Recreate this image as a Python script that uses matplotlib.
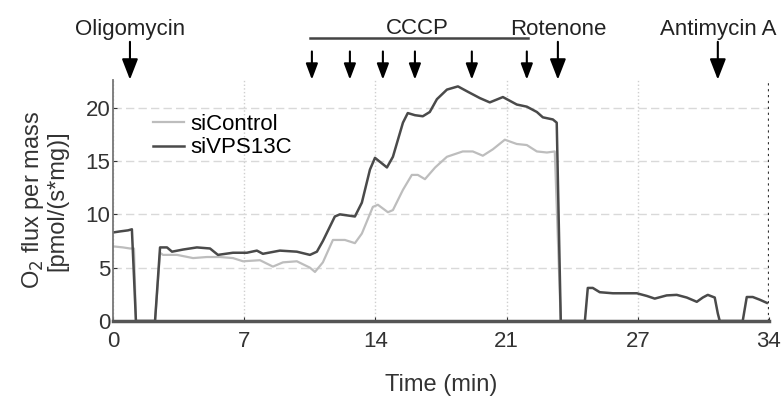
import matplotlib.pyplot as plt
import numpy as np

plt.rcParams['font.family'] = ['Liberation Sans', 'DejaVu Sans']

# ---- data (time in min, O2 flux) ----
t_vps = [0, 0.36, 0.78, 0.98, 1.19, 2.18, 2.44, 2.80, 3.06, 3.63, 4.35, 5.03, 5.44,
         6.22, 6.94, 7.46, 7.77, 8.65, 9.53, 10.21, 10.57, 10.88, 11.50, 11.76, 12.54,
         12.90, 13.32, 13.58, 14.20, 14.51, 15.03, 15.28, 15.65, 16.06, 16.42, 16.79,
         17.31, 17.88, 18.39, 19.02, 19.53, 20.21, 20.93, 21.45, 21.97, 22.28, 22.80,
         23.00, 23.21, 24.46, 24.61, 24.87, 25.23, 25.91, 26.63, 27.15, 27.67, 28.08,
         28.70, 29.22, 29.74, 30.26, 30.57, 30.83, 31.19, 31.35, 31.45, 32.64, 32.85,
         33.16, 33.52, 33.89]
f_vps = [8.3, 8.4, 8.5, 8.6, 0, 0, 6.9, 6.9, 6.5, 6.7, 6.9, 6.8, 6.2,
         6.4, 6.4, 6.6, 6.3, 6.6, 6.5, 6.2, 6.5, 7.5, 9.8, 10.0, 9.8,
         11.1, 14.2, 15.3, 14.4, 15.4, 18.6, 19.5, 19.3, 19.2, 19.6, 20.8,
         21.7, 22.0, 21.5, 20.9, 20.5, 21.0, 20.3, 20.1, 19.6, 19.1, 18.9,
         18.6, 0, 0, 3.1, 3.1, 2.7, 2.6, 2.6, 2.6, 2.35, 2.1,
         2.4, 2.45, 2.2, 1.8, 2.2, 2.45, 2.2, 0.7, 0, 0, 2.25,
         2.25, 2.0, 1.7]

t_ctrl = [0, 0.52, 0.88, 1.09, 1.19, 2.18, 2.44, 2.59, 3.32, 4.15, 4.87, 5.54, 6.22,
          6.74, 7.62, 8.29, 8.81, 9.53, 10.21, 10.47, 10.88, 11.40, 12.02, 12.54,
          12.90, 13.47, 13.73, 14.25, 14.51, 15.03, 15.49, 15.80, 16.17, 16.70,
          17.31, 18.13, 18.65, 19.17, 19.69, 20.31, 20.93, 21.45, 21.97, 22.49,
          22.90, 23.21]
f_ctrl = [7.0, 6.9, 6.8, 6.8, 0, 0, 6.4, 6.2, 6.2, 5.9, 6.0, 6.0, 5.9,
          5.6, 5.7, 5.1, 5.5, 5.6, 5.0, 4.6, 5.5, 7.6, 7.6, 7.3,
          8.2, 10.7, 10.9, 10.2, 10.4, 12.3, 13.7, 13.7, 13.3, 14.4,
          15.4, 15.9, 15.9, 15.5, 16.1, 17.0, 16.6, 16.5, 15.9, 15.8,
          15.9, 0]

# injections
big_arrows = [0.88, 23.06, 31.35]
big_labels = ['Oligomycin', 'Rotenone', 'Antimycin A']
cccp_arrows = [10.31, 12.28, 13.99, 15.65, 18.60, 21.45]

x_ticks = np.linspace(0, 34, 6)
x_ticklabels = ['0', '7', '14', '21', '27', '34']
y_ticks = [0, 5, 10, 15, 20]

fig = plt.figure(figsize=(7.84, 3.99), dpi=100)
ax = fig.add_axes([0.1441, 0.1955, 0.8367, 0.604])

ax.plot(t_ctrl, f_ctrl, color='#bdbdbd', lw=1.6, label='siControl')
ax.plot(t_vps, f_vps, color='#4a4a4a', lw=1.8, label='siVPS13C')

ax.set_xlim(0, 34)
ax.set_ylim(0, 22.6)
ax.set_xticks(x_ticks)
ax.set_xticklabels(x_ticklabels)
ax.set_yticks(y_ticks)
ax.tick_params(labelsize=16, length=3, direction='in', colors='#333333')
ax.tick_params(axis='x', pad=7)
ax.tick_params(axis='y', pad=2)

ax.grid(axis='y', linestyle=(0, (6, 3)), color='#d9d9d9', lw=1)
ax.grid(axis='x', linestyle=':', color='#cfcfcf', lw=1)
ax.axvline(34, linestyle=':', color='#333333', lw=1.6)

for s in ['top', 'right']:
    ax.spines[s].set_visible(False)
ax.spines['left'].set_color('#777777')
ax.spines['left'].set_linewidth(1.3)
ax.spines['bottom'].set_color('#555555')
ax.spines['bottom'].set_linewidth(2.5)

ax.set_xlabel('Time (min)', fontsize=17, color='#333333', labelpad=16)
ax.set_ylabel('O$_2$ flux per mass\n[pmol/(s*mg)]', fontsize=17, color='#333333',
              linespacing=1.05, labelpad=12)

ax.legend(loc='upper left', bbox_to_anchor=(0.047, 0.895), frameon=False, fontsize=16,
          handlelength=1.4, handletextpad=0.3, labelspacing=0.1, borderaxespad=0)

# annotations above the axes
trans = ax.get_xaxis_transform()
for xv, lab in zip(big_arrows, big_labels):
    ax.text(xv, 1.21, lab, transform=trans, ha='center', va='center', fontsize=16,
            color='#222222')
    ax.annotate('', xy=(xv, 0.99), xytext=(xv, 1.17), xycoords=trans, textcoords=trans,
                arrowprops=dict(arrowstyle='-|>,head_length=0.9,head_width=0.35',
                                color='black', lw=1.5, mutation_scale=14),
                annotation_clip=False)
for xv in cccp_arrows:
    ax.annotate('', xy=(xv, 0.99), xytext=(xv, 1.13), xycoords=trans, textcoords=trans,
                arrowprops=dict(arrowstyle='-|>,head_length=0.8,head_width=0.3',
                                color='black', lw=1.5, mutation_scale=12),
                annotation_clip=False)
ax.plot([10.2, 21.5], [1.174, 1.174], transform=trans, color='#444444', lw=1.8,
        clip_on=False)
ax.text(15.75, 1.215, 'CCCP', transform=trans, ha='center', va='center', fontsize=16,
        color='#222222')

plt.savefig('out.png', dpi=100)
